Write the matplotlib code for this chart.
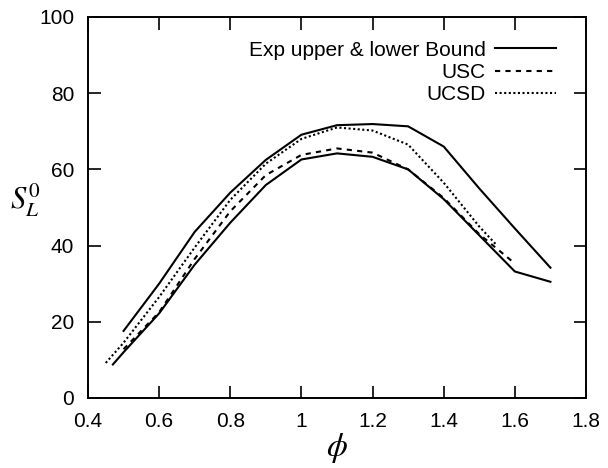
import matplotlib
matplotlib.use("Agg")
import matplotlib.pyplot as plt

plt.rcParams["font.family"] = ["Liberation Sans", "DejaVu Sans"]
plt.rcParams["mathtext.fontset"] = "stix"

# experimental bounds
phi_up = [0.5, 0.6, 0.7, 0.8, 0.9, 1.0, 1.1, 1.2, 1.3, 1.4, 1.5, 1.6, 1.7]
s_up = [17.6, 30.0, 43.6, 53.9, 62.5, 69.1, 71.6, 71.9, 71.3, 66.0, 55.0, 44.5, 34.2]

phi_low = [0.47, 0.5, 0.6, 0.7, 0.8, 0.9, 1.0, 1.1, 1.2, 1.3, 1.4, 1.5, 1.6, 1.7]
s_low = [8.8, 12.0, 22.2, 35.0, 46.0, 55.9, 62.6, 64.2, 63.3, 60.0, 52.2, 42.7, 33.2, 30.5]

# USC mechanism
phi_usc = [0.5, 0.6, 0.7, 0.8, 0.9, 1.0, 1.1, 1.2, 1.3, 1.4, 1.5, 1.6]
s_usc = [12.8, 22.5, 36.5, 49.0, 58.5, 63.8, 65.5, 64.4, 60.0, 52.5, 43.0, 35.3]

# UCSD mechanism
phi_ucsd = [0.45, 0.5, 0.6, 0.7, 0.8, 0.9, 1.0, 1.1, 1.2, 1.3, 1.4, 1.5, 1.55]
s_ucsd = [9.2, 14.5, 26.5, 39.5, 52.0, 61.5, 68.0, 71.0, 70.2, 66.5, 56.5, 45.0, 40.0]

fig = plt.figure(figsize=(6.08, 4.68), dpi=100)
ax = fig.add_axes([0.1447, 0.1496, 0.8191, 0.8141])

ax.plot(phi_up, s_up, color="black", lw=1.5, label="Exp upper & lower Bound")
ax.plot(phi_low, s_low, color="black", lw=1.5)
ax.plot(phi_usc, s_usc, color="black", lw=1.5, linestyle=(0, (2.5, 2.5)), label="USC")
ax.plot(phi_ucsd, s_ucsd, color="black", lw=1.5, linestyle=(0, (1, 1.2)), label="UCSD")

ax.set_xlim(0.4, 1.8)
ax.set_ylim(0, 100)
ax.set_xticks([0.4, 0.6, 0.8, 1.0, 1.2, 1.4, 1.6, 1.8])
ax.set_xticklabels(["0.4", "0.6", "0.8", "1", "1.2", "1.4", "1.6", "1.8"])
ax.set_yticks([0, 20, 40, 60, 80, 100])

ax.tick_params(direction="in", length=9, width=1.2, top=True, right=True,
               labelsize=15, pad=10)
for sp in ax.spines.values():
    sp.set_linewidth(1.4)

ax.set_xlabel(r"$\phi$", fontsize=24, labelpad=0)
ax.set_ylabel(r"$S_L^0$", fontsize=22, rotation=0)
ax.yaxis.set_label_coords(-0.125, 0.47)

ax.legend(loc="upper right", bbox_to_anchor=(0.96, 0.965), frameon=False,
          markerfirst=False, fontsize=15, handlelength=2.9, borderpad=0,
          labelspacing=0.15, handletextpad=0.45)

fig.savefig("out.png", dpi=100)
